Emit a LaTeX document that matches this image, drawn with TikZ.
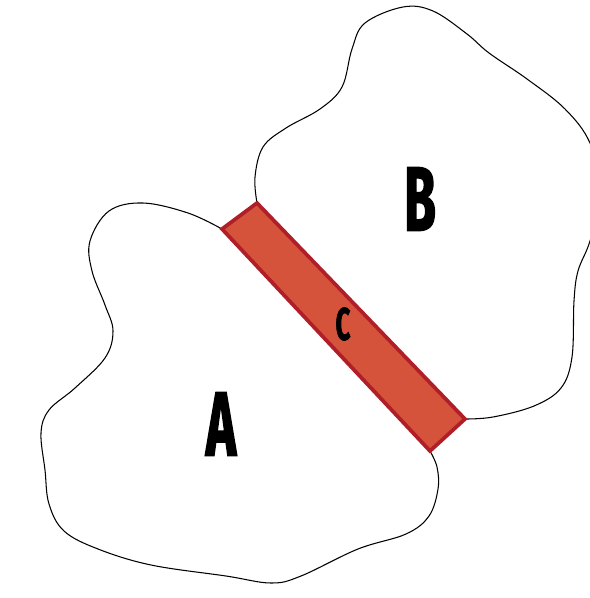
\documentclass[tikz,border=0pt]{standalone}
\usepackage{fontspec}
\newfontfamily\labelfont{Fira Sans}[FakeStretch=0.56, BoldFeatures={FakeBold=1.6}]
\usepackage{xcolor}
\definecolor{bridgefill}{HTML}{D5523B}
\definecolor{bridgeline}{HTML}{B01E28}
\begin{document}
\begin{tikzpicture}[x=0.02cm, y=-0.02cm,
    every node/.style={font=\labelfont\bfseries, inner sep=0pt},
    region/.style={draw=black, line width=0.6pt, smooth, tension=0.6},
    bridge/.style={draw=bridgeline, fill=bridgefill, line width=2.1pt, line join=miter}]
  \useasboundingbox (0,0) rectangle (590,598);
  \clip (0,0) rectangle (590,598);
  % corners of the bridge
  \coordinate (ct) at (257,203);
  \coordinate (cl) at (222,229);
  \coordinate (cb) at (430,451);
  \coordinate (cr) at (465,419);
  % region B
  \draw[region] plot coordinates {(257,203) (255,177) (263,147) (286,128) (320,109) (342,87)
    (352,49) (365,23) (403,7) (433,11) (467,34) (489,53) (527,79) (565,109) (590,143)
    (602,192) (590,241) (578,271) (574,301) (572,357) (561,388) (534,406) (493,417) (465,419)};
  % region A
  \draw[region] plot coordinates {(222,229) (188,213) (143,203) (109,211) (90,241) (92,271)
    (105,305) (113,331) (105,358) (75,388) (49,410) (41,433) (45,470) (49,504) (64,531)
    (98,549) (151,565) (226,576) (271,583) (301,576) (358,549) (406,534) (429,516)
    (438,489) (437,467) (430,451)};
  % bridge C
  \draw[bridge] (ct) -- (cr) -- (cb) -- (cl) -- cycle;
  \node (A) at (221,424) {\fontsize{52}{52}\selectfont A};
  \node (B) at (420,199) {\fontsize{52}{52}\selectfont B};
  \node (C) at (343,324) {\fontsize{26}{26}\selectfont C};
\end{tikzpicture}
\end{document}
